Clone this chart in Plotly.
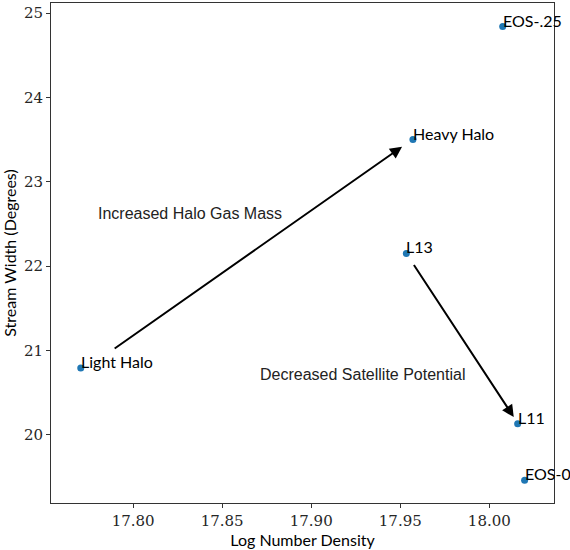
import plotly.graph_objects as go

# Data
labels = ["Light Halo", "Heavy Halo", "L13", "EOS-.25", "L11", "EOS-0"]
log_density = [17.7706, 17.9571, 17.9534, 18.0075, 18.0159, 18.0198]
stream_width = [20.79, 23.50, 22.15, 24.84, 20.13, 19.46]

# Arrows: (tail_x, tail_y, head_x, head_y)
arrow_halo = (17.7888, 21.01, 17.951, 23.416)
arrow_sat = (17.9571, 22.03, 18.0137, 20.209)

x_ticks = [17.80, 17.85, 17.90, 17.95, 18.00]
x_ticktext = ["17.80", "17.85", "17.90", "17.95", "18.00"]
y_ticks = [20, 21, 22, 23, 24, 25]

fig = go.Figure()
fig.add_trace(go.Scatter(
    x=log_density, y=stream_width, mode="markers",
    marker=dict(color="#1f77b4", size=7, line=dict(width=0)),
    showlegend=False, hoverinfo="skip"))

annotations = []
for lab, xv, yv in zip(labels, log_density, stream_width):
    annotations.append(dict(
        x=xv, y=yv, xref="x", yref="y", text=lab, showarrow=False,
        xanchor="left", yanchor="bottom", yshift=-5, xshift=-2,
        font=dict(family="Lato", size=16, color="black")))

for (tx, ty, hx, hy) in [arrow_halo, arrow_sat]:
    annotations.append(dict(
        x=hx, y=hy, ax=tx, ay=ty, xref="x", yref="y", axref="x", ayref="y",
        text="", showarrow=True, arrowhead=2, arrowsize=1.2, arrowwidth=2,
        arrowcolor="black", standoff=0, startstandoff=0))

annotations.append(dict(
    x=17.7803, y=22.628, xref="x", yref="y", text="Increased Halo Gas Mass",
    showarrow=False, xanchor="left", yanchor="middle", xshift=-2,
    font=dict(family="Liberation Sans", size=16, color="#222222")))
annotations.append(dict(
    x=17.871, y=20.716, xref="x", yref="y", text="Decreased Satellite Potential",
    showarrow=False, xanchor="left", yanchor="middle", xshift=-2,
    font=dict(family="Liberation Sans", size=16, color="#222222")))

axis_common = dict(
    showline=True, linecolor="#333333", linewidth=1, mirror=True,
    ticks="outside", ticklen=4, tickcolor="#333333", tickwidth=1,
    showgrid=False, zeroline=False,
    tickfont=dict(family="'DejaVu Serif', 'Liberation Serif', serif", size=15, color="#262626"),
)

fig.update_layout(
    width=570, height=550,
    margin=dict(l=51, r=16, t=3, b=47),
    plot_bgcolor="white", paper_bgcolor="white",
    xaxis=dict(range=[17.7539, 18.0363], tickvals=x_ticks, ticktext=x_ticktext,
               title=dict(text="Log Number Density", standoff=4,
                          font=dict(family="Lato", size=16, color="black")),
               **axis_common),
    yaxis=dict(range=[19.19, 25.12], tickvals=y_ticks,
               title=dict(text="Stream Width (Degrees)", standoff=3,
                          font=dict(family="Lato", size=16, color="black")),
               **axis_common),
    annotations=annotations,
)

fig.write_html("out.html")
